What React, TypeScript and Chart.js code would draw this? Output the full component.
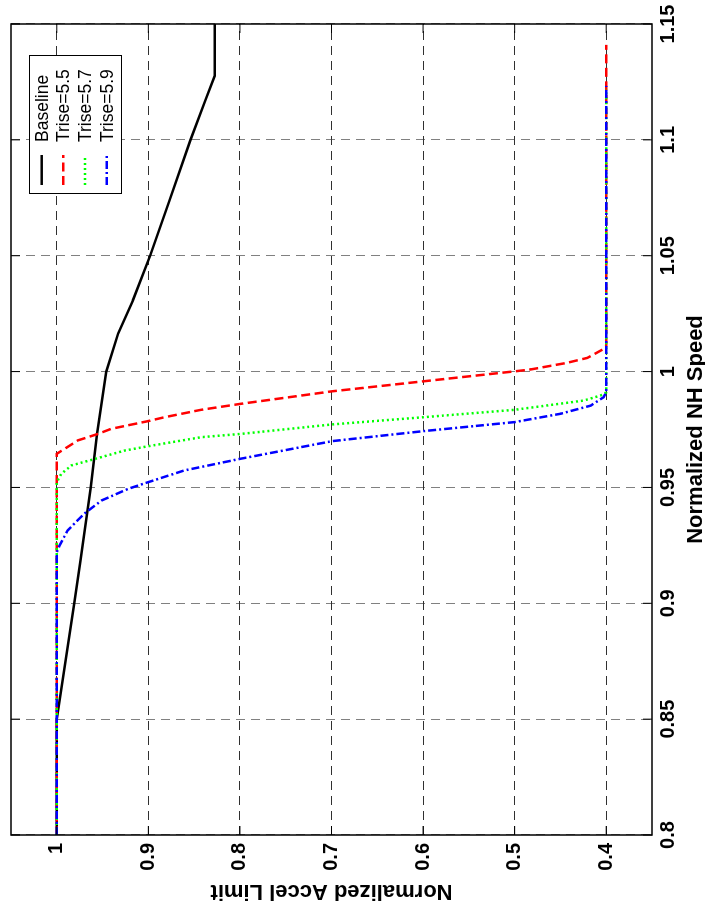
import React, { useEffect, useRef } from 'react';
import { Chart, registerables } from 'chart.js';

Chart.register(...registerables);

const FONT = '"Liberation Sans", Arial, Helvetica, sans-serif';

// Axis ticks
const speedTicks = [0.8, 0.85, 0.9, 0.95, 1, 1.05, 1.1, 1.15];
const accelTicks = [0.4, 0.5, 0.6, 0.7, 0.8, 0.9, 1];

const seriesNames = ['Baseline', 'Trise=5.5', 'Trise=5.7', 'Trise=5.9'];

// Baseline
const baselineSpeed = [0.8, 0.85, 0.9, 0.9185, 0.927, 0.95, 0.973, 1.0, 1.0164, 1.0306, 1.05, 1.0737, 1.1, 1.1168, 1.1276, 1.15];
const baselineAccel = [1, 1, 0.981, 0.974, 0.971, 0.963, 0.956, 0.946, 0.933, 0.917, 0.898, 0.877, 0.854, 0.838, 0.8275, 0.8275];

// Trise = 5.5
const trise55Speed = [0.8, 0.9645, 0.9703, 0.9731, 0.9753, 0.9786, 0.9803, 0.9835, 0.9861, 0.9915, 0.9958, 1.0001, 1.0009, 1.0038, 1.0059, 1.0098, 1.011, 1.141];
const trise55Accel = [1, 1, 0.977, 0.955, 0.9406, 0.9005, 0.8824, 0.8424, 0.7988, 0.699, 0.5996, 0.5, 0.4826, 0.4425, 0.4207, 0.4026, 0.4, 0.4];

// Trise = 5.7
const trise57Speed = [0.8, 0.9523, 0.9559, 0.9595, 0.9619, 0.9659, 0.9678, 0.9717, 0.9731, 0.9772, 0.9803, 0.9835, 0.9875, 0.9897, 0.991, 1.122];
const trise57Accel = [1, 1, 0.995, 0.984, 0.962, 0.926, 0.9, 0.842, 0.799, 0.699, 0.5996, 0.5, 0.4244, 0.406, 0.4, 0.4];

// Trise = 5.9
const trise59Speed = [0.8, 0.922, 0.925, 0.9315, 0.9387, 0.9444, 0.9494, 0.9523, 0.9573, 0.9624, 0.97, 0.9743, 0.9782, 0.9818, 0.9853, 0.9889, 0.991, 1.1233];
const trise59Accel = [1, 1, 0.997, 0.988, 0.97, 0.951, 0.922, 0.9, 0.861, 0.799, 0.699, 0.5996, 0.5, 0.4498, 0.417, 0.403, 0.4, 0.4];

const zip = (xs: number[], ys: number[]) => xs.map((x, i) => ({ x, y: ys[i] }));

const seriesColors = ['#000000', '#ff0000', '#00ff00', '#0000ff'];
const seriesDash: number[][] = [[], [9, 4.5], [2, 3], [8, 3, 2, 3]];

export default function App() {
  const ref = useRef<HTMLCanvasElement>(null);

  useEffect(() => {
    const canvas = ref.current;
    if (!canvas) return;

    const framePlugin = {
      id: 'frameAndLegend',
      afterDatasetsDraw(chart: any) {
        const { ctx, chartArea: a, scales } = chart;
        ctx.save();
        ctx.setLineDash([]);
        ctx.strokeStyle = '#000';
        ctx.lineWidth = 1.5;
        ctx.strokeRect(a.left, a.top, a.right - a.left, a.bottom - a.top);
        ctx.lineWidth = 1;
        ctx.beginPath();
        for (const v of speedTicks) {
          const px = scales.x.getPixelForValue(v);
          ctx.moveTo(px, a.bottom);
          ctx.lineTo(px, a.bottom - 9);
          ctx.moveTo(px, a.top);
          ctx.lineTo(px, a.top + 9);
        }
        for (const v of accelTicks) {
          const py = scales.y.getPixelForValue(v);
          ctx.moveTo(a.left, py);
          ctx.lineTo(a.left + 9, py);
          ctx.moveTo(a.right, py);
          ctx.lineTo(a.right - 9, py);
        }
        ctx.stroke();
        ctx.restore();
      },
      afterDraw(chart: any) {
        const { ctx, chartArea: a } = chart;
        const bx = a.right - 170;
        const by = a.top + 18;
        const bw = 138;
        const bh = 92;
        ctx.save();
        ctx.fillStyle = '#fff';
        ctx.fillRect(bx, by, bw, bh);
        ctx.setLineDash([]);
        ctx.strokeStyle = '#000';
        ctx.lineWidth = 1;
        ctx.strokeRect(bx + 0.5, by + 0.5, bw, bh);
        ctx.font = `17.5px ${FONT}`;
        ctx.textBaseline = 'middle';
        ctx.textAlign = 'left';
        seriesNames.forEach((name, i) => {
          const y = by + 12.7 + i * 21.67;
          ctx.beginPath();
          ctx.strokeStyle = seriesColors[i];
          ctx.lineWidth = 2.5;
          ctx.setLineDash(seriesDash[i]);
          ctx.moveTo(bx + 9, y);
          ctx.lineTo(bx + 39, y);
          ctx.stroke();
          ctx.setLineDash([]);
          ctx.fillStyle = '#000';
          ctx.fillText(name, bx + 52, y + 1);
        });
        ctx.restore();
      },
    };

    const datasets = [
      zip(baselineSpeed, baselineAccel),
      zip(trise55Speed, trise55Accel),
      zip(trise57Speed, trise57Accel),
      zip(trise59Speed, trise59Accel),
    ].map((data, i) => ({
      label: seriesNames[i],
      data,
      showLine: true,
      borderColor: seriesColors[i],
      backgroundColor: seriesColors[i],
      borderWidth: 2.5,
      borderDash: seriesDash[i],
      pointRadius: 0,
      pointHoverRadius: 0,
      fill: false,
      tension: 0,
      order: 4 - i,
    }));

    const chart = new Chart(canvas, {
      type: 'scatter',
      data: { datasets },
      options: {
        animation: false,
        responsive: false,
        devicePixelRatio: 1,
        layout: { padding: { top: 11, right: 24, left: 0, bottom: 0 } },
        plugins: { legend: { display: false }, tooltip: { enabled: false } },
        scales: {
          x: {
            type: 'linear',
            position: 'bottom',
            min: 0.8,
            max: 1.15,
            afterBuildTicks: (s: any) => {
              s.ticks = speedTicks.map((v) => ({ value: v }));
            },
            afterFit: (s: any) => {
              s.height = 53;
              s.paddingLeft = 0;
              s.paddingRight = 0;
            },
            ticks: {
              autoSkip: false,
              maxRotation: 0,
              minRotation: 0,
              padding: 4,
              color: '#000',
              font: { family: FONT, size: 20, weight: 'bold', lineHeight: 1.2 },
              callback: (v: any) => String(v),
            },
            grid: { color: '#808080', lineWidth: 1, drawTicks: false },
            border: { display: false, dash: [9, 6] },
            title: {
              display: true,
              text: 'Normalized NH Speed',
              color: '#000',
              font: { family: FONT, size: 22, weight: 'bold', lineHeight: 0.8 },
              padding: 0,
            },
          },
          y: {
            type: 'linear',
            position: 'left',
            min: 0.35,
            max: 1.05,
            afterBuildTicks: (s: any) => {
              s.ticks = accelTicks.map((v) => ({ value: v }));
            },
            afterFit: (s: any) => {
              s.width = 81;
              s.paddingTop = 0;
              s.paddingBottom = 0;
            },
            ticks: {
              autoSkip: false,
              padding: 8,
              color: '#000',
              font: { family: FONT, size: 20, weight: 'bold', lineHeight: 1.2 },
              callback: (v: any) => String(v),
            },
            grid: { color: '#303030', lineWidth: 1, drawTicks: false },
            border: { display: false, dash: [9, 6] },
            title: {
              display: true,
              text: 'Normalized Accel Limit',
              color: '#000',
              font: { family: FONT, size: 22, weight: 'bold', lineHeight: 1.2 },
              padding: { top: 12, bottom: 0 },
            },
          },
        },
      } as any,
      plugins: [framePlugin],
    });

    return () => chart.destroy();
  }, []);

  return (
    <div style={{ position: 'absolute', left: 0, top: 0, width: 705, height: 916, overflow: 'hidden', background: '#fff' }}>
      <div
        style={{
          position: 'absolute',
          left: 0,
          top: 0,
          width: 916,
          height: 705,
          transformOrigin: '0 0',
          transform: 'translate(0px, 916px) rotate(-90deg)',
        }}
      >
        <canvas ref={ref} width={916} height={705} style={{ width: 916, height: 705, display: 'block' }} />
      </div>
    </div>
  );
}
